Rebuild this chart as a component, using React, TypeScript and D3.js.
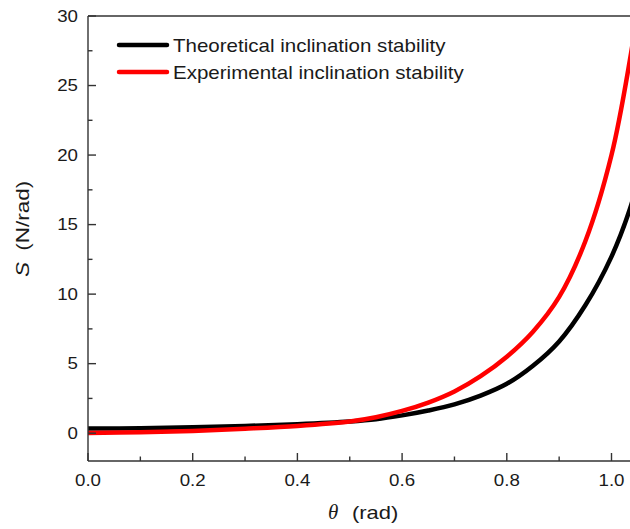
import React from 'react';
import * as d3 from 'd3';

// theta (rad) sample positions and read-off S values (N/rad)
const thetaVals = [0, 0.1, 0.2, 0.3, 0.4, 0.5, 0.55, 0.6, 0.65, 0.7, 0.75, 0.8, 0.85, 0.9, 0.95, 1.0, 1.035, 1.06];
const theoretical = [0.33, 0.36, 0.42, 0.52, 0.65, 0.84, 1.0, 1.28, 1.63, 2.07, 2.7, 3.55, 4.85, 6.6, 9.2, 12.7, 16.1, 19.5];
const experimental = [0.02, 0.07, 0.16, 0.32, 0.52, 0.84, 1.15, 1.6, 2.2, 3.0, 4.1, 5.5, 7.3, 9.8, 13.8, 20.0, 26.8, 33.0];

const xTicks = [0, 0.2, 0.4, 0.6, 0.8, 1.0];
const xMinor = [0.1, 0.3, 0.5, 0.7, 0.9];
const yTicks = [0, 5, 10, 15, 20, 25, 30];
const yMinor = [2.5, 7.5, 12.5, 17.5, 22.5, 27.5];

const legendItems = [
  { label: 'Theoretical inclination stability', color: '#000000' },
  { label: 'Experimental inclination stability', color: '#ff0000' },
];

const W = 630;
const H = 529;
const left = 88;
const top = 16;
const bottom = 461;

const App: React.FC = () => {
  const x = d3.scaleLinear().domain([0, 1.05]).range([left, left + 1.05 * 523.5]);
  const y = d3.scaleLinear().domain([-2, 30]).range([bottom, top]);

  const line = d3.line<number>()
    .x((_, i) => x(thetaVals[i]))
    .y(d => y(d))
    .curve(d3.curveCatmullRom.alpha(0.5));

  const font = '"Liberation Sans", Arial, sans-serif';
  const serif = '"Liberation Serif", "Times New Roman", serif';
  const axisColor = '#333';
  const textColor = '#1a1a1a';

  return (
    <svg width={W} height={H} style={{ position: 'absolute', left: 0, top: 0, background: '#fff' }} fontFamily={font}>
      <defs>
        <clipPath id="plot">
          <rect x={left} y={top} width={W - left} height={bottom - top} />
        </clipPath>
      </defs>

      {/* curves */}
      <g clipPath="url(#plot)">
        <path d={line(theoretical) || ''} fill="none" stroke="#000" strokeWidth={4.5} />
        <path d={line(experimental) || ''} fill="none" stroke="#ff0000" strokeWidth={4.5} />
      </g>

      {/* frame */}
      <line x1={left} x2={W} y1={top} y2={top} stroke={axisColor} strokeWidth={1.4} />
      <line x1={left} x2={W} y1={bottom} y2={bottom} stroke={axisColor} strokeWidth={1.4} />
      <line x1={left} x2={left} y1={top} y2={bottom} stroke={axisColor} strokeWidth={1.4} />

      {/* x ticks */}
      {xTicks.map(t => (
        <g key={'xt' + t}>
          <line x1={x(t)} x2={x(t)} y1={bottom} y2={bottom - 8} stroke={axisColor} strokeWidth={1.4} />
          <text transform={`translate(${x(t)},486) scale(1.17,1)`} textAnchor="middle" fontSize={16} fill={textColor}>{t.toFixed(1)}</text>
        </g>
      ))}
      {xMinor.map(t => (
        <line key={'xm' + t} x1={x(t)} x2={x(t)} y1={bottom} y2={bottom - 4.5} stroke={axisColor} strokeWidth={1.4} />
      ))}

      {/* y ticks */}
      {yTicks.map(t => (
        <g key={'yt' + t}>
          <line x1={left} x2={left + 8} y1={y(t)} y2={y(t)} stroke={axisColor} strokeWidth={1.4} />
          <text transform={`translate(78,${y(t) + 5.5}) scale(1.17,1)`} textAnchor="end" fontSize={16} fill={textColor}>{t}</text>
        </g>
      ))}
      {yMinor.map(t => (
        <line key={'ym' + t} x1={left} x2={left + 4.5} y1={y(t)} y2={y(t)} stroke={axisColor} strokeWidth={1.4} />
      ))}

      {/* axis titles */}
      <text x={328} y={519} fontSize={21} fontFamily={serif} fontStyle="italic" fill={textColor}>θ</text>
      <text transform="translate(352,519) scale(1.22,1)" fontSize={18} fill={textColor}>(rad)</text>

      <g transform="translate(29,277) rotate(-90)">
        <text transform="scale(1.25,1)" fontSize={18} fill={textColor}>
          <tspan fontStyle="italic">S</tspan>
          <tspan x={21}>(N/rad)</tspan>
        </text>
      </g>

      {/* legend */}
      {legendItems.map((d, i) => (
        <g key={d.label} transform={`translate(0,${45 + i * 27})`}>
          <line x1={119} x2={167} y1={0} y2={0} stroke={d.color} strokeWidth={4.5} strokeLinecap="round" />
          <text transform="translate(173,7) scale(1.14,1)" fontSize={18} fill={textColor}>{d.label}</text>
        </g>
      ))}
    </svg>
  );
};

export default App;
